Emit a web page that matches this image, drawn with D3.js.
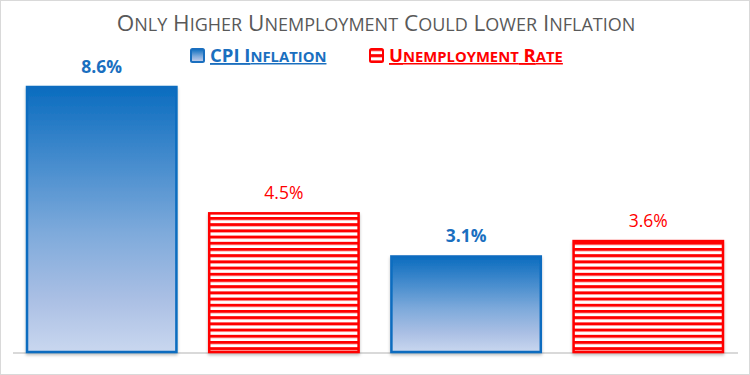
<!DOCTYPE html>
<meta charset="utf-8">
<style>
body{ margin:0; background:#fff; }
svg{ display:block; font-family:"Open Sans", sans-serif; }
.leg{ text-decoration:underline; }
</style>
<body></body>
<script src="https://cdn.jsdelivr.net/npm/d3@7"></script>
<script>

var categories = ['CPI Inflation 1', 'Unemployment 1', 'CPI Inflation 2', 'Unemployment 2']
var values     = [8.6, 4.5, 3.1, 3.6]
var series     = ['cpi', 'unemp', 'cpi', 'unemp']
var labels     = ['8.6%', '4.5%', '3.1%', '3.6%']
var legendNames = ['CPI Inflation', 'Unemployment Rate']
var titleText  = 'Only Higher Unemployment Could Lower Inflation'

var width = 750, height = 375

var svg = d3.select('body').append('svg')
	.attr('width', width).attr('height', height)

var defs = svg.append('defs')

var grad = defs.append('linearGradient').attr('id', 'blueGrad')
	.attr('x1', 0).attr('y1', 0).attr('x2', 0).attr('y2', 1)
grad.append('stop').attr('offset', '0%').attr('stop-color', '#0a6cbf')
grad.append('stop').attr('offset', '55%').attr('stop-color', '#7eaadb')
grad.append('stop').attr('offset', '80%').attr('stop-color', '#aabfe4')
grad.append('stop').attr('offset', '100%').attr('stop-color', '#c9d7ef')

var pat = defs.append('pattern').attr('id', 'stripes')
	.attr('patternUnits', 'userSpaceOnUse')
	.attr('width', 8).attr('height', 6.2)
pat.append('rect').attr('width', 8).attr('height', 6.2).attr('fill', '#fff')
pat.append('rect').attr('width', 8).attr('height', 3).attr('fill', '#ff0000')

var shadow = defs.append('filter').attr('id', 'shadow')
	.attr('x', '-10%').attr('y', '-10%').attr('width', '120%').attr('height', '120%')
shadow.append('feDropShadow').attr('dx', 0).attr('dy', 2).attr('stdDeviation', 1.5)
	.attr('flood-color', '#000').attr('flood-opacity', 0.25)

// fake small caps: lowercase runs -> uppercase at smaller size
function smallCaps(sel, txt, size){
	var runs = txt.match(/[a-z]+|[^a-z]+/g)
	runs.forEach(function(r){
		var low = /[a-z]/.test(r)
		sel.append('tspan')
			.attr('font-size', low ? size * 0.8 : size)
			.text(r.toUpperCase())
	})
}

// chart frame
svg.append('rect').attr('x', 0.5).attr('y', 0.5)
	.attr('width', width - 1).attr('height', height - 1)
	.attr('fill', '#fff').attr('stroke', '#d9d9d9')

var x = d3.scaleBand().domain(categories).range([8.8, 741.2]).paddingInner(0.18).paddingOuter(0.1)
var y = d3.scaleLinear().domain([0, 8.6]).range([352, 87])

// axis line
svg.append('line')
	.attr('x1', 13).attr('x2', 738)
	.attr('y1', y(0) + 1).attr('y2', y(0) + 1)
	.attr('stroke', '#d9d9d9').attr('stroke-width', 2)

svg.append('g').selectAll('rect').data(values).enter()
	.append('rect')
		.attr('x', function(d, i){ return x(categories[i]) })
		.attr('width', x.bandwidth())
		.attr('y', function(d){ return y(d) })
		.attr('height', function(d){ return y(0) - y(d) })
		.attr('fill', function(d, i){ return series[i] == 'cpi' ? 'url(#blueGrad)' : 'url(#stripes)' })
		.attr('stroke', function(d, i){ return series[i] == 'cpi' ? '#0a6cbf' : '#ff0000' })
		.attr('stroke-width', 2.5)
		.attr('filter', 'url(#shadow)')

svg.append('g').selectAll('text').data(values).enter()
	.append('text')
		.attr('x', function(d, i){ return x(categories[i]) + x.bandwidth() / 2 })
		.attr('y', function(d){ return y(d) - 14 })
		.attr('text-anchor', 'middle')
		.attr('font-size', 17.5)
		.attr('font-weight', function(d, i){ return series[i] == 'cpi' ? 'bold' : 'normal' })
		.attr('fill', function(d, i){ return series[i] == 'cpi' ? '#1a6fbf' : '#ff0000' })
		.text(function(d, i){ return labels[i] })

var title = svg.append('text')
	.attr('x', 376).attr('y', 31)
	.attr('text-anchor', 'middle')
	.attr('fill', '#595959')
smallCaps(title, titleText, 22.5)

// legend
var legX = [190, 369], legCol = ['#1a6fbf', '#ff0000']
var leg = svg.append('g').selectAll('g').data(legendNames).enter()
	.append('g').attr('transform', function(d, i){ return 'translate(' + legX[i] + ',48)' })
leg.append('rect').attr('x', 1).attr('y', 1).attr('width', 13).attr('height', 13)
	.attr('rx', 1.5)
	.attr('fill', function(d, i){ return i == 0 ? 'url(#blueGrad)' : 'url(#stripes)' })
	.attr('stroke', function(d, i){ return legCol[i] }).attr('stroke-width', 2)
leg.each(function(d, i){
	var t = d3.select(this).append('text').attr('class', 'leg')
		.attr('x', 20).attr('y', 14)
		.attr('font-weight', 'bold')
		.attr('fill', legCol[i])
	smallCaps(t, d, 18.5)
})

</script>
